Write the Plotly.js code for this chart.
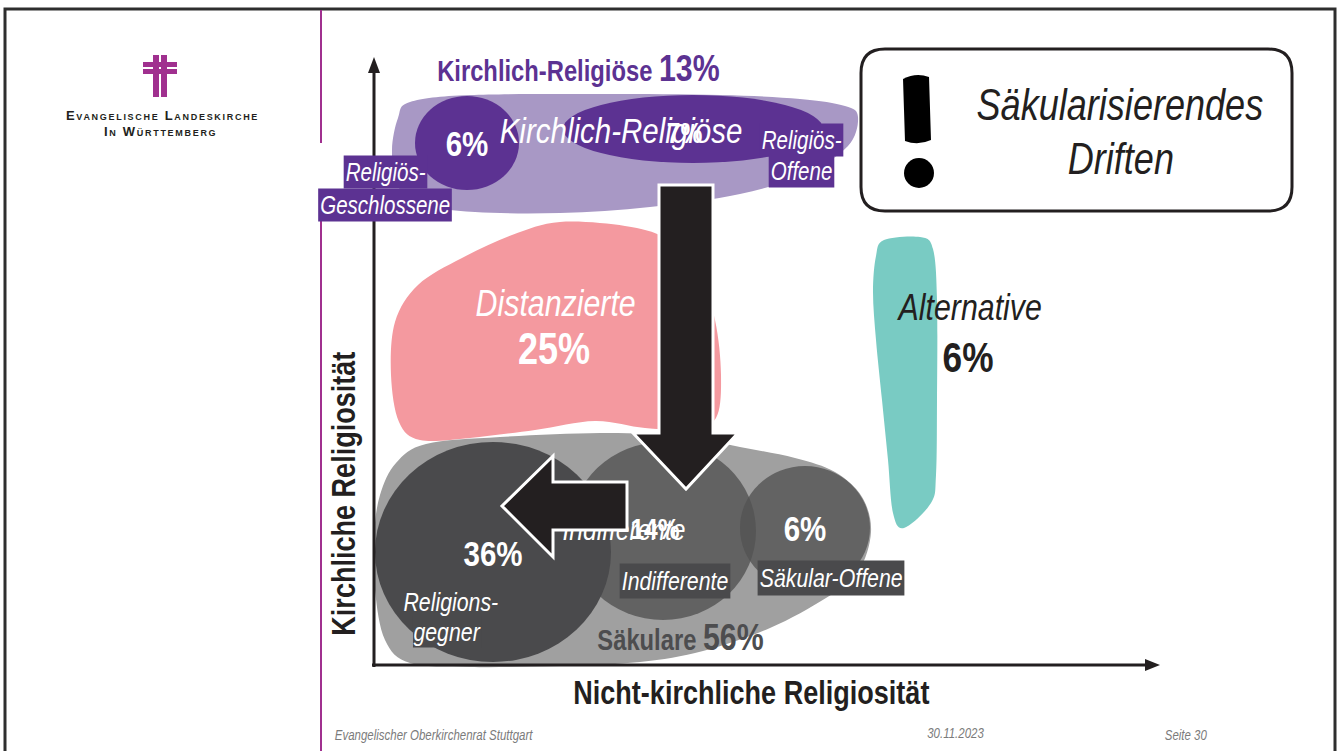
<!DOCTYPE html>
<html><head><meta charset="utf-8">
<script src="https://cdn.plot.ly/plotly-3.0.1.min.js"></script>
<style>html,body{margin:0;padding:0;background:#fff;overflow:hidden}#chart{width:1339px;height:751px}</style>
</head><body><div id="chart"></div>
<script>
// ---------------- data ----------------
const mainGroups = ['Kirchlich-Religiöse', 'Distanzierte', 'Alternative', 'Säkulare'];
const mainShares = [13, 25, 6, 56];
const subGroups = ['Religiös-Geschlossene', 'Kirchlich-Religiöse', 'Religionsgegner', 'Indifferente', 'Säkular-Offene'];
const subShares = [6, 7, 36, 14, 6];
const subLabelLines = [['Religiös-', 'Geschlossene'], ['Religiös-', 'Offene'], ['Religions-', 'gegner'], ['Indifferente'], ['Säkular-Offene']];
const axisTitles = ['Nicht-kirchliche Religiosität', 'Kirchliche Religiosität'];
const calloutLines = ['Säkularisierendes', 'Driften'];
const orgLines = ['Evangelische Landeskirche', 'In Württemberg'];
const footerTexts = ['Evangelischer Oberkirchenrat Stuttgart', '30.11.2023', 'Seite 30'];

// ---------------- geometry (page pixel coordinates) ----------------
const G = {
  purpleBlob: [[410,102],[470,95],[600,94],[720,95],[800,99],[845,106],[858,117],[848,146],[805,174],[740,194],[650,207],[560,213],[475,212],[418,204],[397,184],[392,150],[398,118]],
  pinkBlob: [[560,222],[625,226],[665,238],[698,268],[715,320],[721,375],[716,418],[690,429],[645,428],[595,421],[535,430],[470,438],[420,440],[399,422],[391,375],[395,322],[418,285],[462,258],[512,235]],
  tealBlob: [[884,240],[920,237],[933,249],[937,300],[937,400],[936,475],[931,503],[904,528],[893,513],[888,460],[882,400],[876,340],[873,292],[876,256]],
  grayBlob: [[426,444],[500,437],[600,433],[680,436],[740,447],[795,458],[835,472],[862,497],[871,532],[858,572],[826,598],[770,628],[703,651],[640,662],[560,666],[470,667],[410,663],[385,640],[375,590],[374,537],[380,495],[396,463]],
  purpleCircle: [467,143,52,47],
  purpleEllipse: [693,129,130,34],
  darkCircle: [493,552,118,110],
  midCircle: [663,531,93,89],
  rightCircle: [805,528,65,62],
  downArrow: [[659,185],[713,185],[713,433],[738,433],[686,489],[633,433],[659,433]],
  leftArrow: [[627,482],[553,482],[553,456],[502,506],[553,557],[553,530],[627,530]],
  box: [861,49,1292,211,24]
};

const NARROW = '"Liberation Sans Narrow", "Arial Narrow", "Liberation Sans", Arial, sans-serif';
const SANS = '"Liberation Sans", Arial, sans-serif';
const CONDENSE = 0.82; // narrow face emulation
const C = {
  purpleLight: '#a898c5', purple: '#5c3292', pink: '#f4999f', teal: '#79cbc3',
  grayLight: '#a0a0a0', grayDark: '#4a4a4c', grayMid: '#626262', ink: '#231f20',
  magenta: '#a0308f', frame: '#2e2e2e', footer: '#7b7b7b'
};

function smoothPath(pts) {
  const n = pts.length;
  let d = `M ${pts[0][0]},${pts[0][1]}`;
  for (let i = 0; i < n; i++) {
    const p0 = pts[(i - 1 + n) % n], p1 = pts[i], p2 = pts[(i + 1) % n], p3 = pts[(i + 2) % n];
    const c1 = [p1[0] + (p2[0] - p0[0]) / 6, p1[1] + (p2[1] - p0[1]) / 6];
    const c2 = [p2[0] - (p3[0] - p1[0]) / 6, p2[1] - (p3[1] - p1[1]) / 6];
    d += ` C ${c1[0].toFixed(1)},${c1[1].toFixed(1)} ${c2[0].toFixed(1)},${c2[1].toFixed(1)} ${p2[0]},${p2[1]}`;
  }
  return d + ' Z';
}
function polyPath(pts) { return 'M ' + pts.map(p => p[0] + ',' + p[1]).join(' L ') + ' Z'; }
const base = { xref: 'x', yref: 'y' };
function blob(pts, color, layer) { return Object.assign({ type: 'path', path: smoothPath(pts), fillcolor: color, line: { width: 0 }, layer: layer || 'below' }, base); }
function ell(e, color, opacity, layer) {
  return Object.assign({ type: 'circle', x0: e[0] - e[2], x1: e[0] + e[2], y0: e[1] - e[3], y1: e[1] + e[3], fillcolor: color, opacity: opacity == null ? 1 : opacity, line: { width: 0 }, layer: layer || 'below' }, base);
}
function seg(x0, y0, x1, y1, color, w, layer) { return Object.assign({ type: 'line', x0, y0, x1, y1, line: { color, width: w }, layer: layer || 'below' }, base); }
function poly(pts, fill, lineColor, lw, layer) { return Object.assign({ type: 'path', path: polyPath(pts), fillcolor: fill, line: { color: lineColor || fill, width: lw || 0 }, layer: layer || 'below' }, base); }
function rrect(b) {
  const [x0, y0, x1, y1, r] = b;
  return `M ${x0 + r},${y0} L ${x1 - r},${y0} Q ${x1},${y0} ${x1},${y0 + r} L ${x1},${y1 - r} Q ${x1},${y1} ${x1 - r},${y1} L ${x0 + r},${y1} Q ${x0},${y1} ${x0},${y1 - r} L ${x0},${y0 + r} Q ${x0},${y0} ${x0 + r},${y0} Z`;
}

const shapes = [
  Object.assign({ type: 'rect', x0: 5, y0: 9, x1: 1335, y1: 770, line: { color: C.frame, width: 3 }, fillcolor: 'rgba(0,0,0,0)', layer: 'below' }, base),
  seg(321, 10, 321, 143, C.magenta, 2),
  seg(321, 220, 321, 751, C.magenta, 2),
  poly([[153,55],[159,55],[159,97],[153,97]], C.magenta),
  poly([[161,55],[167,55],[167,97],[161,97]], C.magenta),
  poly([[143,62],[177,62],[177,67],[143,67]], C.magenta),
  poly([[143,69],[177,69],[177,74],[143,74]], C.magenta),
  blob(G.purpleBlob, C.purpleLight),
  ell(G.purpleCircle, C.purple),
  ell(G.purpleEllipse, C.purple),
  blob(G.pinkBlob, C.pink),
  blob(G.tealBlob, C.teal),
  blob(G.grayBlob, C.grayLight),
  ell(G.midCircle, C.grayMid),
  ell(G.rightCircle, 'rgb(82,82,82)', 0.79),
  ell(G.darkCircle, C.grayDark),
  seg(374, 667, 374, 70, C.ink, 3),
  poly([[374,57],[380,73],[368,73]], C.ink),
  seg(372, 665, 1148, 665, C.ink, 3),
  poly([[1160,665],[1145,659],[1145,671]], C.ink),
  Object.assign({ type: 'path', path: rrect(G.box), fillcolor: '#ffffff', line: { color: C.ink, width: 3 }, layer: 'below' }, base),
  Object.assign({ type: 'path', path: 'M 903,79 Q 916,72 929,77 L 931,140 Q 918,146 905,141 Z', fillcolor: '#000', line: { width: 0 }, layer: 'below' }, base),
  Object.assign({ type: 'circle', x0: 904, x1: 934, y0: 158, y1: 188, fillcolor: '#000', line: { width: 0 }, layer: 'below' }, base),
  poly(G.downArrow, C.ink, '#ffffff', 3, 'above'),
  poly(G.leftArrow, C.ink, '#ffffff', 3, 'above')
];

function f(size, color, opts) { return Object.assign({ family: NARROW, size, color }, opts || {}); }
const B = { weight: 700 }, I = { style: 'italic' };
function ann(text, x, y, font, extra) {
  return Object.assign({ text, x, y, xref: 'x', yref: 'y', showarrow: false, xanchor: 'center', yanchor: 'middle', font }, extra || {});
}
const pct = v => v + '%';

const annotations = [
  ann(`<span style="font-variant:small-caps;letter-spacing:1.7px">${orgLines[0]}</span>`, 162, 115, { family: SANS, size: 13, color: C.ink, weight: 700 }),
  ann(`<span style="font-variant:small-caps;letter-spacing:1.7px">${orgLines[1]}</span>`, 160, 131, { family: SANS, size: 13, color: C.ink, weight: 700 }),
  ann(`${mainGroups[0]} <span style="font-size:37px">${pct(mainShares[0])}</span>`, 578, 68, f(29, C.purple, B)),
  ann(pct(subShares[0]), 467, 143, f(36, '#fff', B)),
  ann(subGroups[1], 621, 130, f(36, '#fff', I)),
  ann(pct(subShares[1]), 684, 132, f(30, '#fff', B)),
  ann(subLabelLines[0][0], 385, 172, f(25, '#fff', I), { bgcolor: C.purple, borderpad: 2 }),
  ann(subLabelLines[0][1], 385, 205, f(25, '#fff', I), { bgcolor: C.purple, borderpad: 2 }),
  ann(subLabelLines[1][0], 801, 140, f(25, '#fff', I), { bgcolor: C.purple, borderpad: 2 }),
  ann(subLabelLines[1][1], 801, 171, f(25, '#fff', I), { bgcolor: C.purple, borderpad: 2 }),
  ann(mainGroups[1], 555, 303, f(37, '#fff', I)),
  ann(pct(mainShares[1]), 554, 348, f(44, '#fff', B)),
  ann(mainGroups[2], 969, 307, f(37, C.ink, I)),
  ann(pct(mainShares[2]), 968, 357, f(43, C.ink, B)),
  ann(calloutLines[0], 1120, 104, f(44, C.ink, I)),
  ann(calloutLines[1], 1121, 158, f(44, C.ink, I)),
  ann(pct(subShares[2]), 493, 553, f(36, '#fff', B)),
  ann(subLabelLines[2][0], 451, 602, f(26, '#fff', I)),
  ann(subLabelLines[2][1], 447, 632, f(26, '#fff', I), { bgcolor: C.grayDark, borderpad: 0 }),
  ann(subLabelLines[3][0], 675, 581, f(26, '#fff', I), { bgcolor: C.grayDark, borderpad: 2 }),
  ann(pct(subShares[4]), 805, 528, f(36, '#fff', B)),
  ann(subLabelLines[4][0], 831, 578, f(26, '#fff', I), { bgcolor: C.grayDark, borderpad: 2 }),
  ann(`${mainGroups[3]} <span style="font-size:37px">${pct(mainShares[3])}</span>`, 680, 637, f(29, '#4d4d4f', B)),
  ann(axisTitles[0], 751, 692, f(33, C.ink, B)),
  ann(axisTitles[1], 343, 494, f(33, C.ink, B), { textangle: -90 }),
  ann(footerTexts[0], 333, 735, f(14, C.footer, I), { xanchor: 'left' }),
  ann(footerTexts[1], 955, 733, f(14, C.footer, I)),
  ann(footerTexts[2], 1163, 735, f(14, C.footer, I), { xanchor: 'left' })
];
const wideIdx = new Set([0, 1]); // logo text keeps its normal width

// partly hidden behind the left arrow, so drawn as traces beneath the arrow shapes
const traces = [
  { type: 'scatter', mode: 'text', x: [624], y: [540], text: [subGroups[3]], textposition: 'middle center',
    textfont: { family: NARROW, size: 30, color: '#fff', style: 'italic' }, hoverinfo: 'skip', showlegend: false },
  { type: 'scatter', mode: 'text', x: [655], y: [539], text: [pct(subShares[3])], textposition: 'middle center',
    textfont: { family: NARROW, size: 30, color: '#fff', weight: 700 }, hoverinfo: 'skip', showlegend: false }
];

const layout = {
  width: 1339, height: 751,
  margin: { l: 0, r: 0, t: 0, b: 0, pad: 0 },
  paper_bgcolor: '#ffffff', plot_bgcolor: '#ffffff',
  xaxis: { range: [0, 1339], visible: false, fixedrange: true },
  yaxis: { range: [751, 0], visible: false, fixedrange: true },
  showlegend: false,
  shapes, annotations
};
Plotly.newPlot('chart', traces, layout, { displayModeBar: false, staticPlot: true }).then(gd => {
  const s = CONDENSE;
  gd.querySelectorAll('g.annotation').forEach(g => {
    const idx = +g.getAttribute('data-index');
    if (wideIdx.has(idx)) return;
    const a = annotations[idx];
    const bb = g.getBBox();
    if (a.textangle === -90) {
      const cy = bb.y + bb.height / 2;
      g.setAttribute('transform', `translate(0,${cy}) scale(1,${s}) translate(0,${-cy})`);
    } else {
      const cx = a.xanchor === 'left' ? bb.x : bb.x + bb.width / 2;
      g.setAttribute('transform', `translate(${cx},0) scale(${s},1) translate(${-cx},0)`);
    }
  });
  gd.querySelectorAll('g.textpoint').forEach(g => {
    const bb = g.getBBox();
    const cx = bb.x + bb.width / 2;
    g.setAttribute('transform', `translate(${cx},0) scale(${s},1) translate(${-cx},0)`);
  });
});
</script></body></html>
